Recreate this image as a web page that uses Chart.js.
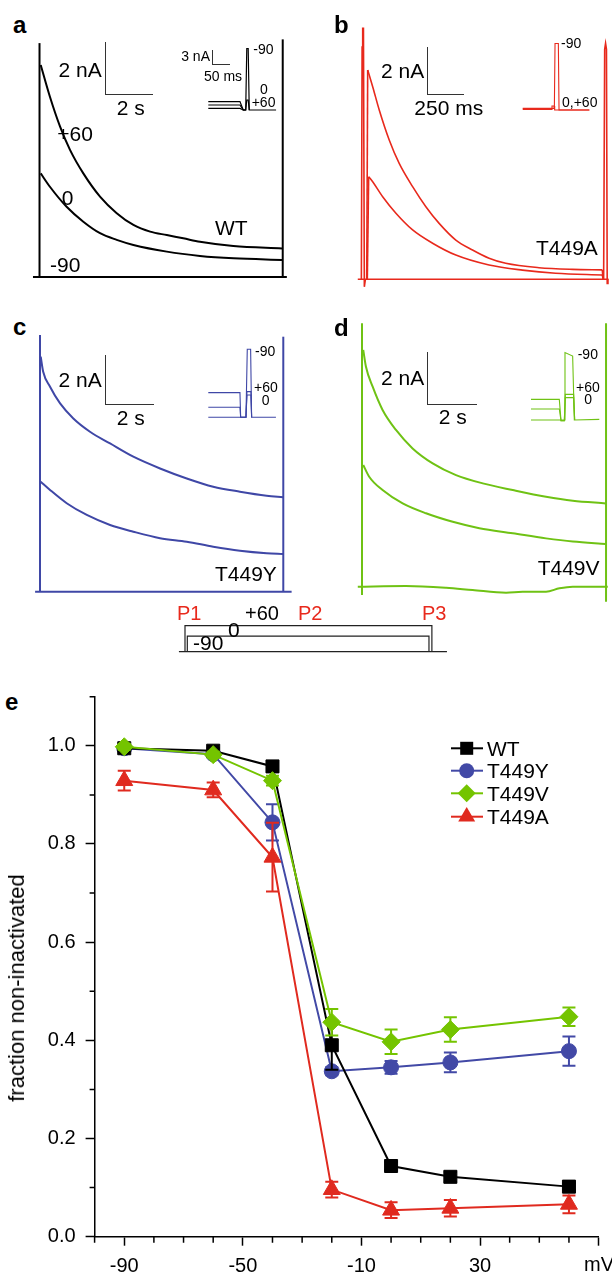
<!DOCTYPE html>
<html lang="en">
<head>
  <meta charset="UTF-8">
  <title>Inactivation of WT and T449 mutants</title>
  <script src="https://cdn.jsdelivr.net/npm/chart.js"></script>
  <style>
    body { margin: 0; background: #fff; }
    #fig { position: relative; width: 612px; height: 1275px; overflow: hidden;
           font-family: "Liberation Sans", Arial, Helvetica, sans-serif; color: #000; }
    #fig canvas { position: absolute; }
    .lbl { position: absolute; white-space: nowrap; line-height: 1; }
    .bar { position: absolute; box-sizing: border-box; border: 0 solid #333;
           border-left-width: 1.3px; border-bottom-width: 1.3px; }
  </style>
</head>
<body>
  <div id="fig"></div>

  <script>
    // ---- panel a (WT), time in s, current in nA ----
    const aTrace60 = [[0.03,7.94],[0.41,6.75],[0.83,5.63],[1.24,4.76],[1.79,3.88],[2.48,3.01],[3.17,2.39],[3.86,1.95],[4.55,1.70],[5.24,1.57],[5.92,1.45],[6.61,1.32],[7.99,1.16],[10.0,1.07]];
    const aTrace0 = [[0.03,3.88],[0.41,3.38],[1.10,2.63],[1.79,2.07],[2.48,1.64],[3.17,1.39],[3.86,1.20],[5.24,0.95],[6.61,0.79],[8.0,0.70],[10.0,0.64]];
    const aTraceM90 = [[-0.29,0],[10.2,0]];
    const aEdges = [[[-0.02,0],[-0.02,8.76]], [[10.03,0],[10.03,8.9]]];

    // ---- panel b (T449A), time in ms ----
    const bTrace60 = [[33.5,8.65],[67,7.96],[111,7.0],[178,5.76],[245,4.79],[335,3.83],[424,3.0],[513,2.31],[625,1.62],[737,1.21],[848,0.87],[960,0.66],[1183,0.48],[1407,0.41],[1608,0.39]];
    const bTrace0 = [[40,4.24],[67,4.03],[134,3.41],[223,2.73],[335,2.04],[469,1.49],[625,1.0],[848,0.59],[1072,0.38],[1295,0.25],[1608,0.18]];
    const bTraceM90 = [[-33,0],[1650,0]];
    const bEdges = [
      [[-9,0],[-4,9.6],[0,10.37],[5,10.37],[11,-0.31],[18,0]],
      [[27,0],[33.5,8.65]], [[31,0],[40,4.24]],
      [[1608,0.39],[1614,0]], [[1608,0.18],[1614,0]],
      [[1617,0],[1624,9.5],[1630,9.75],[1636,9.5],[1641,-0.17],[1646,0]]
    ];

    // ---- panel c (T449Y), time in s ----
    const cTrace60 = [[0.03,9.4],[0.13,8.8],[0.41,8.2],[0.82,7.53],[1.36,6.93],[2.04,6.4],[2.86,5.93],[3.81,5.4],[4.9,4.93],[5.99,4.53],[7.07,4.2],[8.16,4.0],[9.25,3.84],[9.92,3.78]];
    const cTrace0 = [[0.03,4.4],[0.41,4.07],[1.09,3.54],[1.91,3.07],[2.86,2.67],[3.81,2.4],[4.9,2.14],[5.99,2.0],[7.07,1.8],[8.16,1.64],[9.25,1.54],[9.92,1.51]];
    const cTraceM90 = [[-0.2,0],[10.27,0]];
    const cEdges = [[[0,0],[0,10.27]], [[9.93,0],[9.93,10.2]]];

    // ---- panel d (T449V), time in s ----
    const dTrace60 = [[0.05,8.87],[0.16,8.24],[0.43,7.49],[0.83,6.62],[1.37,5.87],[2.04,5.18],[2.85,4.62],[3.79,4.18],[4.87,3.87],[6.08,3.62],[7.42,3.37],[8.5,3.22],[9.83,3.12]];
    const dTrace0 = [[0.05,4.56],[0.29,4.12],[0.83,3.62],[1.64,3.12],[2.58,2.75],[3.66,2.43],[4.73,2.19],[6.08,2.0],[7.42,1.81],[8.5,1.69],[9.83,1.6]];
    const dTraceM90 = [[-0.17,0],[1.77,0.025],[3.39,-0.04],[4.46,-0.125],[5.81,-0.225],[6.48,-0.19],[7.42,-0.19],[7.96,-0.06],[8.5,0],[9.91,0]];
    const dEdges = [[[0,-0.31],[0,9.87]], [[9.84,-0.56],[9.84,9.87]]];

    // ---- insets, time in ms, current in nA ----
    const insetA = [
      [[0,0.33],[89.7,0.33],[99,0],[106,0],[109,12.3],[113,12.3],[116,0],[192,0]],
      [[0,1.0],[89.7,1.0],[99,0],[106,0],[109,2.0],[113,2.0],[116,0]],
      [[0,1.67],[89.7,1.67],[99,0],[106,0]]
    ];
    const insetB = [
      [[0,0.33],[89.7,0.33],[91.6,13.3],[101,13.3],[102.9,0],[188.8,0]],
      [[0,0.13],[80.2,0.13],[83,0.8],[88.7,0.8],[90.6,0],[188.8,0]]
    ];
    const insetC = [
      [[0,0],[106.7,0],[110.4,13.6],[119.9,13.6],[122.7,0],[191.6,0]],
      [[0,2.0],[89.7,2.0],[91.6,0],[106.7,0],[109.5,4.47],[120.8,4.47],[122.7,0]],
      [[0,4.93],[89.7,4.93],[91.6,0],[106.7,0],[109.5,5.13],[120.8,5.13],[122.7,0]]
    ];
    const insetD = [
      [[0,0],[94.4,0],[96.3,13.5],[118,12.8],[122.7,0],[193.5,0.13]],
      [[0,2.2],[80.2,2.2],[85,-0.13],[94.4,-0.13],[97.2,4.47],[120.8,4.47],[123.7,0]],
      [[0,4.13],[80.2,4.13],[85,-0.13],[94.4,-0.13],[97.2,5.13],[120.8,5.13],[123.7,0]]
    ];

    // ---- pulse protocol, time in s, voltage in mV ----
    const protoHold = [[-0.25,-90],[10.78,-90]];
    const protoStep60 = [[0,-90],[0,60],[10.16,60],[10.16,-90]];
    const protoStep0 = [[0.095,-90],[0.095,0],[10.04,0],[10.04,-90]];

    // ---- panel e ----
    const voltages = [-90, -60, -40, -20, 0, 20, 60];
    const wtMean = [0.995, 0.99, 0.958, 0.39, 0.144, 0.122, 0.102];
    const wtErr = [0.005, 0.005, 0.008, 0.05, 0.008, 0.01, 0.007];
    const t449yMean = [0.995, 0.983, 0.844, 0.337, 0.345, 0.355, 0.378];
    const t449yErr = [0.005, 0.006, 0.037, 0.008, 0.013, 0.02, 0.03];
    const t449vMean = [0.998, 0.982, 0.929, 0.437, 0.397, 0.422, 0.448];
    const t449vErr = [0.006, 0.006, 0.01, 0.027, 0.025, 0.025, 0.019];
    const t449aMean = [0.929, 0.910, 0.773, 0.096, 0.054, 0.058, 0.066];
    const t449aErr = [0.02, 0.015, 0.07, 0.016, 0.016, 0.017, 0.018];
    const xMajor = [-90, -50, -10, 30, 70];
    const xMinor = [-100, -80, -70, -60, -40, -30, -20, 0, 10, 20, 40, 50, 60];
    const yMajor = [0, 0.2, 0.4, 0.6, 0.8, 1.0];
    const yMinor = [0.1, 0.3, 0.5, 0.7, 0.9, 1.1];

    const FONT = '"Liberation Sans", Arial, Helvetica, sans-serif';
    const RED = '#e8291c', BLUE = '#3f47a6', GREEN = '#6fc214';
    Chart.defaults.font.family = FONT;

    const fig = document.getElementById('fig');

    function addCanvas(left, top, w, h) {
      const c = document.createElement('canvas');
      c.width = w; c.height = h;
      c.style.left = left + 'px'; c.style.top = top + 'px';
      fig.appendChild(c);
      return c;
    }

    function label(text, x, base, size, opt = {}) {
      const d = document.createElement('div');
      d.className = 'lbl';
      d.textContent = text;
      d.style.fontSize = size + 'px';
      d.style.left = x + 'px';
      d.style.top = (base - 0.8465 * size) + 'px';
      if (opt.align === 'right') d.style.transform = 'translateX(-100%)';
      if (opt.align === 'center') d.style.transform = 'translateX(-50%)';
      if (opt.color) d.style.color = opt.color;
      if (opt.bold) d.style.fontWeight = 'bold';
      fig.appendChild(d);
    }

    function scaleBar(x, yTop, yBottom, xRight) {
      const d = document.createElement('div');
      d.className = 'bar';
      d.style.left = x + 'px'; d.style.top = yTop + 'px';
      d.style.width = (xRight - x) + 'px'; d.style.height = (yBottom - yTop) + 'px';
      fig.appendChild(d);
    }

    // box = [left, top, w, h] on the page, origin = page pixel of (0, 0)
    function traceChart(box, origin, pxX, pxY, smooth, straight, color, width) {
      const [left, top, w, h] = box;
      const toSet = (pts, mono) => ({
        data: pts.map(p => ({ x: p[0], y: p[1] })),
        showLine: true, pointRadius: 0, borderColor: color, borderWidth: width,
        cubicInterpolationMode: mono ? 'monotone' : 'default', tension: 0
      });
      new Chart(addCanvas(left, top, w, h), {
        type: 'scatter',
        data: { datasets: smooth.map(p => toSet(p, true)).concat(straight.map(p => toSet(p, false))) },
        options: {
          responsive: false, animation: false, events: [],
          layout: { padding: 0 },
          plugins: { legend: { display: false }, tooltip: { enabled: false } },
          scales: {
            x: { type: 'linear', display: false, min: (left - origin[0]) / pxX, max: (left + w - origin[0]) / pxX },
            y: { type: 'linear', display: false, min: (origin[1] - top - h) / pxY, max: (origin[1] - top) / pxY }
          }
        }
      });
    }

    // main traces
    traceChart([28, 30, 268, 260], [40, 277], 24.2, 26.7, [aTrace60, aTrace0], [aTraceM90].concat(aEdges), '#000', 2);
    traceChart([345, 20, 267, 275], [362.7, 279.3], 0.149, 24.2, [bTrace60, bTrace0], [bTraceM90].concat(bEdges), RED, 1.6);
    traceChart([28, 325, 268, 275], [40, 591.7], 24.5, 25, [cTrace60, cTrace0], [cTraceM90].concat(cEdges), BLUE, 2);
    traceChart([345, 315, 267, 295], [362, 586.7], 24.8, 26.7, [dTrace60, dTrace0, dTraceM90], dEdges, GREEN, 2);

    // insets
    traceChart([200, 38, 90, 77], [208.3, 110], 0.353, 5, [], insetA, '#000', 1.2);
    traceChart([515, 35, 95, 80], [522.7, 110], 0.353, 5, [], insetB, RED, 1.1);
    traceChart([200, 340, 90, 85], [208.3, 417.3], 0.353, 5, [], insetC, BLUE, 1.1);
    traceChart([525, 345, 85, 80], [531, 420], 0.353, 5, [], insetD, GREEN, 1.1);

    // protocol
    traceChart([170, 612, 290, 45], [185, 636.1], 24.3, 0.1733, [], [protoHold, protoStep60, protoStep0], '#222', 1.2);

    // scale bars
    scaleBar(105, 42, 95, 153);
    scaleBar(427, 46.7, 95, 464.3);
    scaleBar(105, 355, 405, 154);
    scaleBar(427, 351.7, 405, 476.7);
    scaleBar(212.3, 50, 65, 230);

    // panel letters
    label('a', 13, 33.3, 24, { bold: true });
    label('b', 334, 33.3, 24, { bold: true });
    label('c', 13, 335, 24, { bold: true });
    label('d', 334, 336.7, 24, { bold: true });
    label('e', 5, 710, 24, { bold: true });

    // panel a text
    label('2 nA', 101.7, 76.7, 21, { align: 'right' });
    label('2 s', 116.7, 115, 21);
    label('+60', 57.3, 140.7, 21);
    label('0', 61.7, 205, 21);
    label('WT', 215, 235, 21);
    label('-90', 50, 271.7, 21);
    label('3 nA', 210, 60.7, 14, { align: 'right' });
    label('50 ms', 204, 80.7, 14);
    label('-90', 253.3, 54, 14);
    label('0', 260, 94, 14);
    label('+60', 251.7, 107.3, 14);

    // panel b text
    label('2 nA', 424.3, 77.3, 21, { align: 'right' });
    label('250 ms', 414.3, 115, 21);
    label('T449A', 536, 255, 21);
    label('-90', 561, 48.3, 14);
    label('0,+60', 562, 106.7, 14);

    // panel c text
    label('2 nA', 101.7, 386.7, 21, { align: 'right' });
    label('2 s', 116.7, 425, 21);
    label('T449Y', 215, 580.7, 21);
    label('-90', 255, 355.7, 14);
    label('+60', 254, 392.3, 14);
    label('0', 261.7, 405, 14);

    // panel d text
    label('2 nA', 424.3, 385, 21, { align: 'right' });
    label('2 s', 438.7, 424, 21);
    label('T449V', 537.7, 574.3, 21);
    label('-90', 577.7, 359, 14);
    label('+60', 576, 392.3, 14);
    label('0', 584.3, 404, 14);

    // protocol text
    label('P1', 177, 620, 20, { color: RED });
    label('+60', 245, 620, 20);
    label('P2', 298, 620, 20, { color: RED });
    label('P3', 422, 620, 20, { color: RED });
    label('0', 228, 637, 21);
    label('-90', 193, 650, 21);

    // ---- panel e chart ----
    const seriesList = [
      { label: 'WT', mean: wtMean, err: wtErr, color: '#000000', style: 'rect', radius: 9.2, order: 1 },
      { label: 'T449Y', mean: t449yMean, err: t449yErr, color: '#4249a6', style: 'circle', radius: 7.5, order: 3 },
      { label: 'T449V', mean: t449vMean, err: t449vErr, color: '#74c400', style: 'rectRot', radius: 9, order: 0 },
      { label: 'T449A', mean: t449aMean, err: t449aErr, color: '#e02a1f', style: 'triangle', radius: 9.8, order: 2 }
    ];

    const E_TOP = 670;

    const errorBars = {
      id: 'errorBars',
      afterDatasetDraw(chart, args) {
        const ds = chart.data.datasets[args.index];
        const y = chart.scales.y;
        const ctx = chart.ctx;
        ctx.save();
        ctx.strokeStyle = ds.borderColor;
        ctx.lineWidth = 2;
        args.meta.data.forEach((pt, i) => {
          const v = ds.data[i].y, e = ds.errors[i];
          const t = y.getPixelForValue(v + e), b = y.getPixelForValue(v - e);
          ctx.beginPath();
          ctx.moveTo(pt.x, t); ctx.lineTo(pt.x, b);
          ctx.moveTo(pt.x - 6.5, t); ctx.lineTo(pt.x + 6.5, t);
          ctx.moveTo(pt.x - 6.5, b); ctx.lineTo(pt.x + 6.5, b);
          ctx.stroke();
        });
        ctx.restore();
      }
    };

    const minorTicks = {
      id: 'minorTicks',
      afterDraw(chart) {
        const { x, y } = chart.scales;
        const area = chart.chartArea;
        const ctx = chart.ctx;
        ctx.save();
        ctx.strokeStyle = '#000';
        ctx.lineWidth = 1.5;
        ctx.beginPath();
        xMinor.forEach(v => {
          const px = x.getPixelForValue(v);
          ctx.moveTo(px, area.bottom); ctx.lineTo(px, area.bottom + 6);
        });
        yMinor.forEach(v => {
          const py = y.getPixelForValue(v);
          ctx.moveTo(area.left - 5, py); ctx.lineTo(area.left, py);
        });
        ctx.stroke();
        ctx.restore();
      }
    };

    // legend: line + marker, text is html
    const legendRows = [748.3, 770.7, 793.3, 816.7];
    const legendMarks = {
      id: 'legendMarks',
      afterDraw(chart) {
        const ctx = chart.ctx;
        seriesList.forEach((s, i) => {
          const yy = legendRows[i] - E_TOP;
          ctx.save();
          ctx.strokeStyle = s.color;
          ctx.fillStyle = s.color;
          ctx.lineWidth = 2;
          ctx.beginPath();
          ctx.moveTo(451, yy); ctx.lineTo(483, yy);
          ctx.stroke();
          Chart.helpers.drawPoint(ctx, { pointStyle: s.style, radius: s.radius, rotation: 0, borderWidth: 0 }, 466.7, yy);
          ctx.restore();
        });
      }
    };

    new Chart(addCanvas(0, E_TOP, 612, 1275 - E_TOP), {
      type: 'line',
      data: {
        datasets: seriesList.map(s => ({
          label: s.label,
          data: voltages.map((v, i) => ({ x: v, y: s.mean[i] })),
          errors: s.err,
          borderColor: s.color,
          backgroundColor: s.color,
          pointBackgroundColor: s.color,
          pointBorderColor: s.color,
          pointBorderWidth: 1,
          borderWidth: 2,
          pointStyle: s.style,
          pointRadius: s.radius,
          tension: 0,
          order: s.order
        }))
      },
      options: {
        responsive: false, animation: false, events: [],
        layout: { padding: { left: 0, right: 13.4, top: 26.7, bottom: 0 } },
        plugins: { legend: { display: false }, tooltip: { enabled: false } },
        scales: {
          x: {
            type: 'linear', min: -100, max: 70,
            afterBuildTicks: ax => { ax.ticks = xMajor.map(v => ({ value: v })); },
            afterFit: ax => { ax.height = 38.3; },
            ticks: { autoSkip: false, maxRotation: 0, padding: 9, color: '#000',
                     font: { size: 20 }, callback: v => (v === 70 ? '' : String(v)) },
            grid: { drawOnChartArea: false, drawTicks: true, tickLength: 9, tickWidth: 1.5, tickColor: '#000' },
            border: { display: true, color: '#000', width: 1.5 }
          },
          y: {
            type: 'linear', min: 0, max: 1.1,
            afterBuildTicks: ax => { ax.ticks = yMajor.map(v => ({ value: v })); },
            afterFit: ax => { ax.width = 94.6; },
            ticks: { padding: 10, color: '#000', font: { size: 20 }, callback: v => v.toFixed(1) },
            grid: { drawOnChartArea: false, drawTicks: true, tickLength: 9, tickWidth: 1.5, tickColor: '#000' },
            border: { display: true, color: '#000', width: 1.5 }
          }
        }
      },
      plugins: [errorBars, minorTicks, legendMarks]
    });

    seriesList.forEach((s, i) => label(s.label, 487, legendRows[i] + 7, 21));
    label('mV', 584, 1271, 20);

    // y axis title
    const title = document.createElement('div');
    title.className = 'lbl';
    title.textContent = 'fraction non-inactivated';
    title.style.fontSize = '22px';
    title.style.left = '17.4px';
    title.style.top = '988px';
    title.style.transform = 'translate(-50%, -50%) rotate(-90deg)';
    fig.appendChild(title);
  </script>
</body>
</html>
